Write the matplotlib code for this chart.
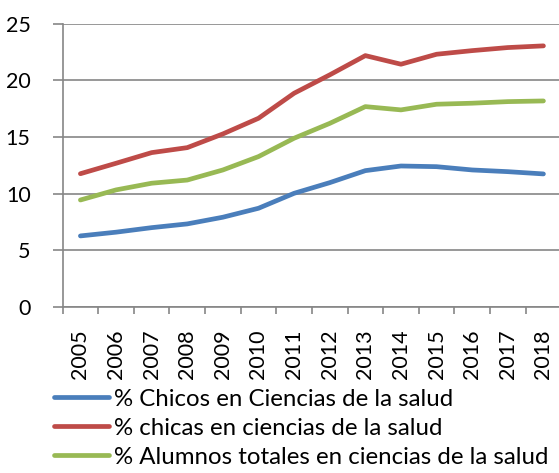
import matplotlib
matplotlib.use('Agg')
import matplotlib.pyplot as plt
import numpy as np

# data
years = ['2005', '2006', '2007', '2008', '2009', '2010', '2011',
         '2012', '2013', '2014', '2015', '2016', '2017', '2018']
chicos = [6.27, 6.6, 7.0, 7.33, 7.92, 8.71, 10.03,
          10.97, 12.03, 12.44, 12.38, 12.09, 11.94, 11.74]
chicas = [11.76, 12.68, 13.62, 14.06, 15.27, 16.65, 18.86,
          20.48, 22.18, 21.42, 22.3, 22.62, 22.89, 23.04]
totales = [9.44, 10.33, 10.92, 11.2, 12.09, 13.27, 14.89,
           16.2, 17.68, 17.39, 17.89, 17.98, 18.12, 18.18]
labels = ['% Chicos en Ciencias de la salud',
          '% chicas en ciencias de la salud',
          '% Alumnos totales en ciencias de la salud']

plt.rcParams['font.family'] = ['Lato', 'DejaVu Sans']

fig = plt.figure(figsize=(5.59, 4.73), dpi=100)
ax = fig.add_axes([0.112, 0.351, 0.892, 0.599])

grid_col = '#868686'
x = np.arange(len(years))
lw = 3.4
ax.plot(x, chicos, color='#4A7EBB', lw=lw, solid_capstyle='round', label=labels[0])
ax.plot(x, chicas, color='#BE4B48', lw=lw, solid_capstyle='round', label=labels[1])
ax.plot(x, totales, color='#98B954', lw=lw, solid_capstyle='round', label=labels[2])

ax.set_xlim(-0.5, len(years) - 0.5)
ax.set_ylim(0, 25)
ax.set_yticks(np.arange(0, 26, 5))
ax.yaxis.grid(True, color=grid_col, lw=1.2)
ax.set_axisbelow(True)

ax.set_xticks(x)
ax.set_xticklabels(years, rotation=90)
ax.set_xticks(np.arange(-0.5, len(years), 1), minor=True)
ax.tick_params(axis='x', which='major', length=0, pad=16, labelsize=15.5)
ax.tick_params(axis='x', which='minor', length=5, color=grid_col, width=1.2)
ax.tick_params(axis='y', length=7, color=grid_col, width=1.2, labelsize=15.5, pad=16)

for s in ['top', 'right']:
    ax.spines[s].set_visible(False)
for s in ['left', 'bottom']:
    ax.spines[s].set_color(grid_col)
    ax.spines[s].set_linewidth(1.2)

fig.legend(loc='upper left', bbox_to_anchor=(0.0966, 0.178), bbox_transform=fig.transFigure,
           frameon=False, fontsize=17.3, handlelength=2.3, handletextpad=0.2,
           labelspacing=0.33, borderaxespad=0, borderpad=0)

fig.savefig('out.png', dpi=100)
